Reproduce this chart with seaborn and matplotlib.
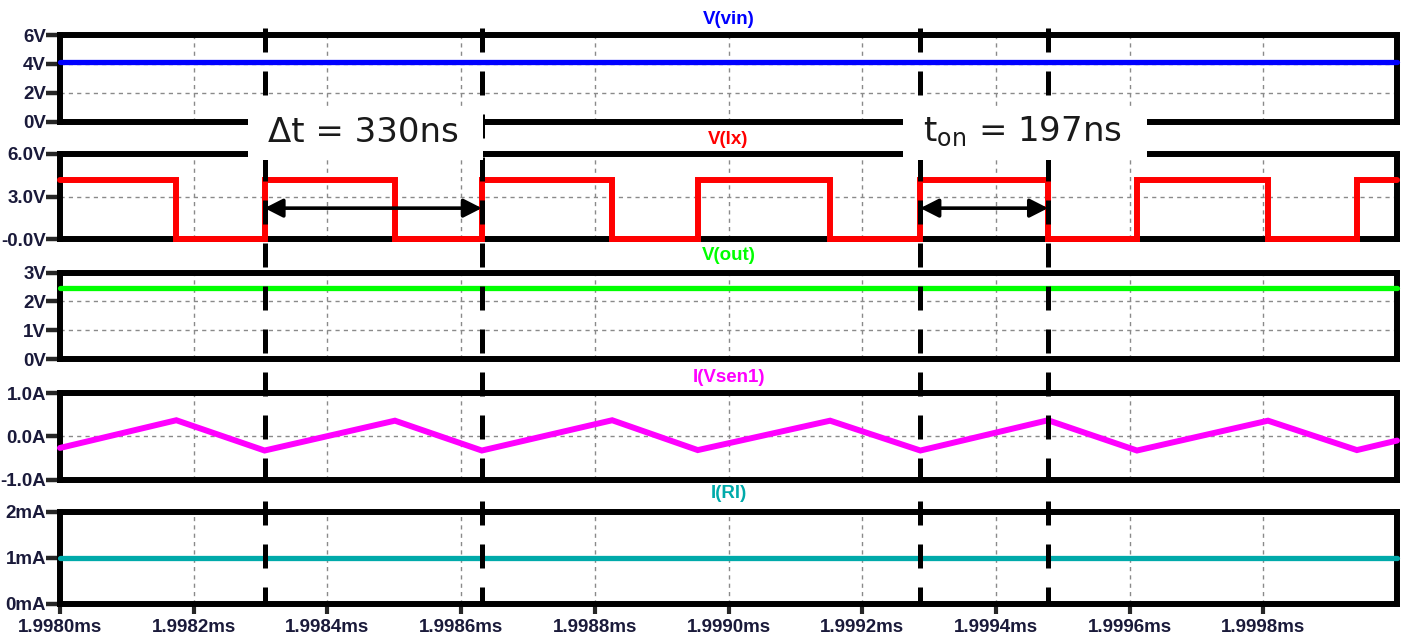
import numpy as np
import pandas as pd
import matplotlib.pyplot as plt
import matplotlib.transforms as mtransforms
from matplotlib.lines import Line2D
from matplotlib.patches import Rectangle
import seaborn as sns

# time is in ns after 1.9980ms
x_ticks = [0, 200, 400, 600, 800, 1000, 1200, 1400, 1600, 1800]
x_ticklabels = ["1.9980ms", "1.9982ms", "1.9984ms", "1.9986ms", "1.9988ms",
                "1.9990ms", "1.9992ms", "1.9994ms", "1.9996ms", "1.9998ms"]
t_end = 2000

# V(vin), V(out), I(Rl) are flat
vin_level = 4.1
vout_level = 2.47
irl_level = 1.0  # mA

# V(lx) switching edges (ns)
fall_ns = [174, 501, 826, 1152, 1478, 1807]
rise_ns = [306, 631, 954, 1287, 1611, 1940]
lx_high = 4.2
lx_low = 0.0

# I(Vsen1) triangle corners
isen_start = -0.27
isen_peak = [0.37, 0.36, 0.37, 0.36, 0.37, 0.36]
isen_valley = [-0.33, -0.33, -0.32, -0.33, -0.33, -0.32]
isen_end = -0.10

# cursors (ns)
cursor_ns = [306, 631, 1287, 1478]
arrow_level = 2.2

TICK_COLOR = "#1a1a3a"

sns.set_style("white")
plt.rcParams["font.family"] = ["Liberation Sans", "DejaVu Sans"]

W, H = 1408, 641
fig = plt.figure(figsize=(W / 100, H / 100), dpi=100)


def fy(px):
    return 1 - px / H


# build waveforms from the edge lists
lx_t, lx_v = [0], [lx_high]
for f, r in zip(fall_ns, rise_ns):
    lx_t += [f, f, r, r]
    lx_v += [lx_high, lx_low, lx_low, lx_high]
lx_t.append(t_end)
lx_v.append(lx_high)

is_t, is_v = [0], [isen_start]
for f, r, p, v in zip(fall_ns, rise_ns, isen_peak, isen_valley):
    is_t += [f, r]
    is_v += [p, v]
is_t.append(t_end)
is_v.append(isen_end)

panels = [
    dict(name="V(vin)", color="#0000ff", top=35, bot=121.5, ylim=(0, 6),
         yticks=[0, 2, 4, 6], ylabels=["0V", "2V", "4V", "6V"],
         t=[0, t_end], v=[vin_level, vin_level], lw=3.8, label_y=20),
    dict(name="V(lx)", color="#ff0000", top=154, bot=239.5, ylim=(0, 6),
         yticks=[0, 3, 6], ylabels=["-0.0V", "3.0V", "6.0V"],
         t=lx_t, v=lx_v, lw=4.3, label_y=140),
    dict(name="V(out)", color="#00ff00", top=272.5, bot=359, ylim=(0, 3),
         yticks=[0, 1, 2, 3], ylabels=["0V", "1V", "2V", "3V"],
         t=[0, t_end], v=[vout_level, vout_level], lw=3.8, label_y=256),
    dict(name="I(Vsen1)", color="#ff00ff", top=393, bot=479.5, ylim=(-1, 1),
         yticks=[-1, 0, 1], ylabels=["-1.0A", "0.0A", "1.0A"],
         t=is_t, v=is_v, lw=4.3, label_y=378),
    dict(name="I(Rl)", color="#00aaaa", top=512, bot=604, ylim=(0, 2),
         yticks=[0, 1, 2], ylabels=["0mA", "1mA", "2mA"],
         t=[0, t_end], v=[irl_level, irl_level], lw=3.8, label_y=494),
]

left_px, right_px = 60, 1397
axes = []
for i, p in enumerate(panels):
    ax = fig.add_axes([left_px / W, fy(p["bot"]), (right_px - left_px) / W,
                       (p["bot"] - p["top"]) / H])
    df = pd.DataFrame({"t": p["t"], "v": p["v"]})
    sns.lineplot(data=df, x="t", y="v", ax=ax, color=p["color"],
                 linewidth=p["lw"], estimator=None, sort=False,
                 solid_joinstyle="miter", zorder=4, clip_on=False)
    ax.set_xlim(0, t_end)
    ax.set_ylim(*p["ylim"])
    ax.set_yticks(p["yticks"])
    ax.set_yticklabels(p["ylabels"])
    ax.set_xticks(x_ticks)
    ax.set_xlabel("")
    ax.set_ylabel("")
    ax.grid(True, color="#8a8a8a", linestyle=(0, (3, 3)), linewidth=1.0)
    for s in ax.spines.values():
        s.set_visible(True)
        s.set_linewidth(4.3)
        s.set_color("black")
    ax.tick_params(axis="y", direction="out", length=10, width=3.2, pad=0,
                   labelsize=13.5, labelcolor=TICK_COLOR, left=True)
    for lab in ax.get_yticklabels():
        lab.set_fontweight("bold")
    if i == len(panels) - 1:
        ax.set_xticklabels(x_ticklabels)
        ax.tick_params(axis="x", direction="out", length=7.5, width=3,
                       pad=3, labelsize=13.5, labelcolor=TICK_COLOR, bottom=True)
        for lab in ax.get_xticklabels():
            lab.set_fontweight("bold")
    else:
        ax.tick_params(axis="x", length=0, labelbottom=False)
    fig.text((left_px + right_px) / 2 / W, fy(p["label_y"]), p["name"],
             color=p["color"], fontsize=13.5, fontweight="bold",
             ha="center", va="center")
    axes.append(ax)

# double arrows in V(lx)
arrow_style = "<|-|>,head_length=0.55,head_width=0.28"
for a, b in [(cursor_ns[0], cursor_ns[1]), (cursor_ns[2], cursor_ns[3])]:
    axes[1].annotate("", xy=(b, arrow_level), xytext=(a, arrow_level),
                     arrowprops=dict(arrowstyle=arrow_style, color="black",
                                     lw=2.6, mutation_scale=20,
                                     shrinkA=0, shrinkB=0), zorder=5)

# cursors across all panels
trans = mtransforms.blended_transform_factory(axes[0].transData, fig.transFigure)
for c in cursor_ns:
    fig.add_artist(Line2D([c, c], [fy(28), fy(604)], transform=trans,
                          color="black", linewidth=3.6,
                          linestyle=(0, (4.8, 3.8)), zorder=2))

# white label boxes
for x0, x1, txt, tx in [(248, 483, "\u0394t = 330ns", 363),
                         (903, 1147, r"t$_\mathregular{on}$ = 197ns", 1022)]:
    fig.add_artist(Rectangle((x0 / W, fy(160)), (x1 - x0) / W, 54 / H,
                             transform=fig.transFigure, facecolor="white",
                             edgecolor="none", zorder=3))
    fig.text(tx / W, fy(132), txt, fontsize=24.5, family="DejaVu Sans",
             color="#1a1a1a", ha="center", va="center", zorder=4)

fig.savefig("out.png", dpi=100)
